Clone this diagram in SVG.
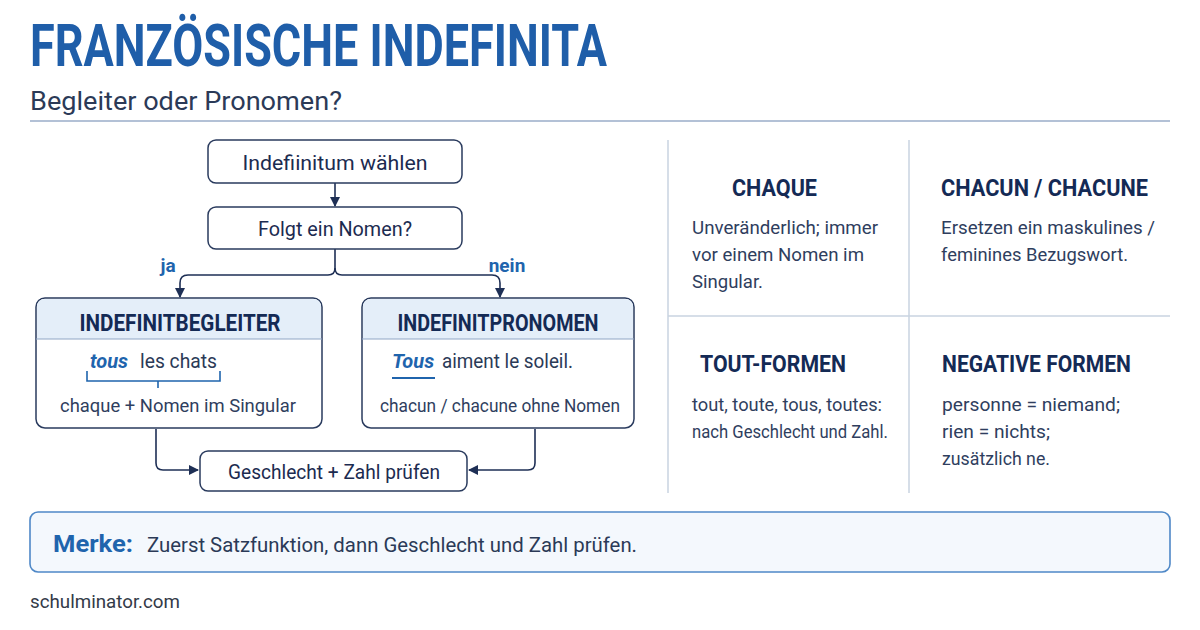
<svg xmlns="http://www.w3.org/2000/svg" width="1200" height="630" viewBox="0 0 1200 630">
<defs>
<marker id="ah" viewBox="0 0 10 10" refX="9" refY="5" markerWidth="10" markerHeight="10" markerUnits="userSpaceOnUse" orient="auto">
<path d="M0,0 L10,5 L0,10 z" fill="#1e2f55"/>
</marker>
<style>
.box{fill:#ffffff;stroke:#2a3b5e;stroke-width:1.5}
.t{font-family:Roboto,"Liberation Sans",sans-serif;fill:#1c2b50}
.hd{font-family:Roboto,"Liberation Sans",sans-serif;font-weight:700;fill:#142a55}
.body{font-family:Roboto,"Liberation Sans",sans-serif;fill:#2f3e5e;font-size:19px}
.conn{fill:none;stroke:#1e2f55;stroke-width:1.6}
.grid{stroke:#c9d3e1;stroke-width:1.5}
</style>
</defs>
<rect width="1200" height="630" fill="#ffffff"/>
<g id="title">
<text x="30" y="66" class="t" style="font-weight:700;fill:#1f5ea9" font-size="60" textLength="577" lengthAdjust="spacingAndGlyphs">FRANZÖSISCHE INDEFINITA</text>
<text x="30" y="110" class="t" font-size="25" style="fill:#2b3a57" textLength="312" lengthAdjust="spacingAndGlyphs">Begleiter oder Pronomen?</text>
<line x1="30" y1="121" x2="1170" y2="121" stroke="#b3c1d6" stroke-width="2"/>
</g>
<g id="connectors">
<line class="conn" x1="335" y1="183" x2="335" y2="206" marker-end="url(#ah)"/>
<path class="conn" d="M335,249 L335,268 Q335,275 328,275 L188,275 Q180,275 180,283 L180,297" marker-end="url(#ah)"/>
<path class="conn" d="M335,268 Q335,275 342,275 L492,275 Q500,275 500,283 L500,297" marker-end="url(#ah)"/>
<path class="conn" d="M156,429 L156,463 Q156,470 163,470 L198,470" marker-end="url(#ah)"/>
<path class="conn" d="M535,429 L535,463 Q535,470 528,470 L469,470" marker-end="url(#ah)"/>
<text x="168" y="272" class="hd" font-size="19" text-anchor="middle" style="fill:#1f64ad">ja</text>
<text x="507" y="272" class="hd" font-size="19" text-anchor="middle" style="fill:#1f64ad">nein</text>
</g>
<g id="node-start">
<rect class="box" x="208" y="140" width="254" height="43" rx="8"/>
<text x="335" y="170" class="t" font-size="20" text-anchor="middle" textLength="185" lengthAdjust="spacingAndGlyphs">Indefiinitum wählen</text>
</g>
<g id="node-question">
<rect class="box" x="208" y="207" width="254" height="42" rx="8"/>
<text x="335" y="236" class="t" font-size="20" text-anchor="middle" textLength="154" lengthAdjust="spacingAndGlyphs">Folgt ein Nomen?</text>
</g>
<g id="node-begleiter">
<rect x="36" y="298" width="286" height="130" rx="9" fill="#ffffff" stroke="#2a3b5e" stroke-width="1.5"/>
<path d="M37,339 L37,307 Q37,299 45,299 L313,299 Q321,299 321,307 L321,339 z" fill="#e4eef9"/>
<line x1="36" y1="339" x2="322" y2="339" stroke="#8fa6c6" stroke-width="1.2"/>
<text x="180" y="331" class="hd" font-size="23" text-anchor="middle" textLength="201" lengthAdjust="spacingAndGlyphs">INDEFINITBEGLEITER</text>
<text x="90" y="368" class="t" font-size="20" style="font-style:italic;font-weight:700;fill:#1f64ad">tous</text>
<text x="140" y="368" class="t" font-size="20" style="fill:#2b3a57" textLength="77" lengthAdjust="spacingAndGlyphs">les chats</text>
<path d="M87,371 L87,381 L220,381 L220,371 M158,381 L158,388" fill="none" stroke="#1f64ad" stroke-width="1.6"/>
<text x="178" y="412" class="body" text-anchor="middle" textLength="236" lengthAdjust="spacingAndGlyphs">chaque + Nomen im Singular</text>
</g>
<g id="node-pronomen">
<rect x="362" y="298" width="272" height="130" rx="9" fill="#ffffff" stroke="#2a3b5e" stroke-width="1.5"/>
<path d="M363,339 L363,307 Q363,299 371,299 L625,299 Q633,299 633,307 L633,339 z" fill="#e4eef9"/>
<line x1="362" y1="339" x2="634" y2="339" stroke="#8fa6c6" stroke-width="1.2"/>
<text x="498" y="331" class="hd" font-size="23" text-anchor="middle" textLength="201" lengthAdjust="spacingAndGlyphs">INDEFINITPRONOMEN</text>
<text x="392" y="368" class="t" font-size="20" style="font-style:italic;font-weight:700;fill:#1f64ad">Tous</text>
<text x="442" y="368" class="t" font-size="20" style="fill:#2b3a57" textLength="131" lengthAdjust="spacingAndGlyphs">aiment le soleil.</text>
<line x1="392" y1="378" x2="435" y2="378" stroke="#1f64ad" stroke-width="2"/>
<text x="500" y="412" class="body" text-anchor="middle" textLength="240" lengthAdjust="spacingAndGlyphs">chacun / chacune ohne Nomen</text>
</g>
<g id="node-pruefen">
<rect class="box" x="200" y="451" width="267" height="40" rx="8"/>
<text x="334" y="479" class="t" font-size="20" text-anchor="middle" textLength="212" lengthAdjust="spacingAndGlyphs">Geschlecht + Zahl prüfen</text>
</g>
<g id="grid">
<line class="grid" x1="668" y1="140" x2="668" y2="493"/>
<line class="grid" x1="909" y1="140" x2="909" y2="493"/>
<line class="grid" x1="668" y1="316" x2="1170" y2="316"/>
</g>
<g id="cell-chaque">
<text x="732" y="196" class="hd" font-size="23" textLength="85" lengthAdjust="spacingAndGlyphs">CHAQUE</text>
<text x="692" y="234" class="body" textLength="186" lengthAdjust="spacingAndGlyphs">Unveränderlich; immer</text>
<text x="692" y="261" class="body" textLength="172" lengthAdjust="spacingAndGlyphs">vor einem Nomen im</text>
<text x="692" y="288" class="body" textLength="71" lengthAdjust="spacingAndGlyphs">Singular.</text>
</g>
<g id="cell-chacun">
<text x="941" y="196" class="hd" font-size="23" textLength="207" lengthAdjust="spacingAndGlyphs">CHACUN / CHACUNE</text>
<text x="941" y="234" class="body" textLength="214" lengthAdjust="spacingAndGlyphs">Ersetzen ein maskulines /</text>
<text x="941" y="261" class="body" textLength="187" lengthAdjust="spacingAndGlyphs">feminines Bezugswort.</text>
</g>
<g id="cell-tout">
<text x="700" y="372" class="hd" font-size="23" textLength="146" lengthAdjust="spacingAndGlyphs">TOUT-FORMEN</text>
<text x="692" y="411" class="body" textLength="190" lengthAdjust="spacingAndGlyphs">tout, toute, tous, toutes:</text>
<text x="692" y="438" class="body" textLength="196" lengthAdjust="spacingAndGlyphs">nach Geschlecht und Zahl.</text>
</g>
<g id="cell-negative">
<text x="942" y="372" class="hd" font-size="23" textLength="189" lengthAdjust="spacingAndGlyphs">NEGATIVE FORMEN</text>
<text x="942" y="411" class="body" textLength="178" lengthAdjust="spacingAndGlyphs">personne = niemand;</text>
<text x="942" y="438" class="body" textLength="108" lengthAdjust="spacingAndGlyphs">rien = nichts;</text>
<text x="942" y="465" class="body" textLength="108" lengthAdjust="spacingAndGlyphs">zusätzlich ne.</text>
</g>
<g id="merke">
<rect x="30" y="512" width="1140" height="60" rx="8" fill="#f4f8fd" stroke="#4f88c7" stroke-width="1.6"/>
<text x="53" y="552" class="hd" font-size="24" style="fill:#1f64ad" textLength="80" lengthAdjust="spacingAndGlyphs">Merke:</text>
<text x="147" y="552" class="t" font-size="20" style="fill:#2b3a57" textLength="490" lengthAdjust="spacingAndGlyphs">Zuerst Satzfunktion, dann Geschlecht und Zahl prüfen.</text>
</g>
<text x="30" y="608" class="t" font-size="18" style="fill:#333a48" textLength="150" lengthAdjust="spacingAndGlyphs">schulminator.com</text>
</svg>
